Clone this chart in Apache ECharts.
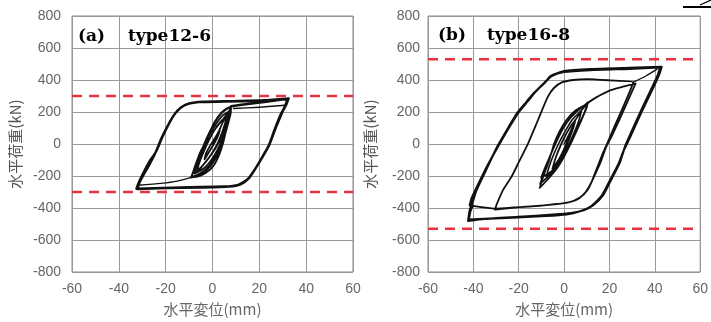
<!DOCTYPE html>
<html>
<head>
<meta charset="utf-8">
<script src="https://cdn.jsdelivr.net/npm/echarts@6/dist/echarts.min.js"></script>
<style>
html,body{margin:0;padding:0;background:#fff;}
#chart{width:711px;height:322px;}
</style>
</head>
<body>
<div id="chart"></div>
<script>
// ---------- Axis definitions ----------
const xRange = [-60, 60];
const xStep = 20;
const yRange = [-800, 800];
const yStep = 200;
const xAxisTitle = '水平変位(mm)';
const yAxisTitle = '水平荷重(kN)';
const panelTags = ['(a)', '(b)'];
const panelNames = ['type12-6', 'type16-8'];

// ---------- Panel (a) type12-6 : [displacement mm, load kN] ----------
const aInnerLoops = [[0,0],[1.5,45],[3.2,95],[2.6,60],[1,10],[-1.5,-50],[-3.4,-95],[-2.8,-60],[-1,-10],[1.4,45],[3.2,95],
  [4.5,140],[6,172],[5.5,130],[4,60],[1.5,-20],[-1.5,-85],[-4.5,-140],[-6.5,-170],[-6,-130],[-4.2,-60],[-2,10],[0.5,80],[3.5,140],[6,172],[5.2,120],[3.4,45],[1,-30],[-2,-95],[-5,-148],[-6.6,-168],[-5.7,-120],[-3.8,-50],[-1.5,25],[1.2,95],[4.5,155],
  [6.9,200],[6.6,160],[5.4,95],[4,30],[2,-40],[-0.5,-100],[-3.5,-150],[-7.7,-185],[-6.9,-140],[-5.3,-75],[-3.4,-10],[-1.2,60],[1.5,125],[4.5,180],[6.9,202],
  [7.9,234],[7.8,195],[6.8,135],[5.6,70],[4.4,0],[2.8,-70],[0.5,-135],[-2.8,-180],[-6,-202],[-9.1,-209],[-8.3,-175],[-6.9,-115],[-5.2,-50],[-3.4,0],[-1.5,65],[0.8,135],[3.5,192],[6,222],[7.9,234],[7.3,190],[6.2,130],[5,60],[3.5,-15],[1.5,-85],[-1,-140],[-4.5,-185],[-9,-206],[-8,-165],[-6.4,-100],[-4.4,-30],[-2.4,40],[0,110],[3,180],[6,220],[8,236],[6.8,185],[5.5,115],[4,40],[2.3,-40],[0,-110],[-3,-160],[-6.5,-192],[-9.2,-210],[-7.6,-150],[-5.6,-80],[-3.6,-10],[-1.6,60],[1,135],[4,195],[8,236]];
const aOuterLoops = [[8,236],[15,250],[22,262],[32,283],[31.3,250],[29.9,201],[27,100],[24.3,-4],[21,-90],[18.6,-148],[15.5,-215],[12,-252],[7,-266],[-5,-272],[-20,-276],[-32,-282],[-31.3,-245],[-29.7,-200],[-27,-130],[-24.7,-66],[-22,30],[-19.7,98],[-17,170],[-14,221],[-11,248],[-6,262],[5,265],[20,270],[32,280],[31,235],[29.3,190],[26.5,90],[24,-10],[20.5,-100],[18,-160],[15,-220],[11,-255],[5,-266],[-10,-270],[-25,-276],[-32.5,-280],[-31.5,-240],[-29.5,-180],[-27,-110],[-24.2,-50],[-21.5,40],[-19.2,110],[-16.5,180],[-13.5,228],[-10,253],[-4,264],[8,268],[22,273],[32.5,285],[31.5,245],[30,205]];
const aLinkLow = [[-9.1,-209],[-15,-232],[-22,-246],[-32,-258]];
const aLinkHigh = [[9,222],[20,230],[31,242]];
const aLimits = [300, -300];

// ---------- Panel (b) type16-8 ----------
const bInnerLoops = [[0,0],[2.5,70],[5,150],[4.3,110],[2.5,40],[0,-40],[-2.5,-100],[-5,-150],[-4.3,-110],[-2.5,-40],[0,40],[2.5,100],[5,150],[4,100],[1.5,20],[-1,-60],[-3.5,-125],[-5.2,-155],[-3.8,-90],[-1.8,-20],[0.5,50],[3,115],[5.2,155],
  [7.6,205],[6.8,160],[5,90],[2.5,10],[-0.5,-70],[-3.5,-140],[-7.8,-205],[-6.8,-150],[-5,-80],[-2.5,0],[0.5,80],[3.5,150],[7.6,210],
  [10.5,258],[9.8,220],[8,160],[5.5,80],[2.9,0],[0,-80],[-3,-150],[-6.5,-210],[-10.8,-275],[-9.8,-230],[-8.3,-170],[-6.5,-100],[-4.5,0],[-2,80],[1,150],[5,210],[10.3,252],[9.3,205],[7.2,140],[4.6,60],[2,-20],[-1.2,-100],[-4.5,-165],[-8,-215],[-10.6,-250],[-9.2,-190],[-7.5,-120],[-5.2,-40],[-2.8,40],[0.5,120],[4,185],[8,230],[10.6,262],[9,200],[6.5,120],[4,40],[1,-40],[-2,-110],[-5.5,-170],[-10.2,-212],[-8.5,-150],[-6,-70],[-3.5,10],[-0.5,95],[3,165],[7,220],[10,252]];
const bMidLoops = [[10,252],[14,290],[20,334],[26,358],[31.5,378],[30,330],[27.5,250],[24,140],[21,50],[18.5,-20],[16,-117],[13,-210],[10.5,-285],[7,-335],[2,-365],[-8,-382],[-20,-395],[-30.5,-410],[-29.8,-380],[-27,-290],[-23,-200],[-20.1,-117],[-15.8,6],[-11.5,150],[-7.2,294],[-4.5,350],[-1,385],[4,400],[10,406],[20,398],[30.5,386],[29,330],[26,230],[22.5,120],[19.5,20],[17,-60],[14.5,-150],[12,-240],[9.5,-300],[6,-345],[0,-370],[-10,-385],[-22,-397],[-30.1,-404],[-36,-395],[-41.6,-383]];
const bOuterLoops = [[-41.6,-383],[-40.8,-340],[-38.5,-270],[-34,-140],[-28.5,0],[-24,110],[-20,200],[-16,268],[-12.9,322],[-8.5,385],[-5.5,425],[0,450],[11.5,462],[28.7,470],[42.3,478],[41,420],[37,300],[33,180],[29.5,70],[27,-10],[24.5,-117],[21,-215],[17.2,-320],[13,-380],[8.6,-414],[3,-432],[-5,-442],[-20,-455],[-35,-468],[-42.3,-480],[-41.6,-414],[-40,-350],[-38.7,-291],[-34.5,-165],[-29.2,-10],[-24.5,105],[-20.5,198],[-16.5,265],[-13.2,320],[-8.2,388],[-5.9,425],[0,455],[11.5,468],[28.7,476],[43,482],[41.8,430],[40.2,380],[36.5,270],[32.5,150],[29,40],[26.3,-40],[23.8,-130],[20.3,-225],[16.5,-325],[12,-388],[7,-420],[1,-440],[-8,-450],[-25,-462],[-42,-472],[-41.3,-420],[-40.3,-385]];
const bLink = [[30.5,386],[36,425],[41,468]];
const bLimits = [530, -530];

// ---------- Build chart ----------
const grids = [
  {left: 72, top: 16, width: 281, height: 260, show: true, borderColor: '#888', borderWidth: 1, backgroundColor: '#fff'},
  {left: 428, top: 16, width: 279, height: 260, show: true, borderColor: '#888', borderWidth: 1, backgroundColor: '#fff'}
];
const labelMarginY = [11, 8];
const nameGapY = [49, 50];

function xAxisFor(i) {
  return {
    type: 'value', gridIndex: i, min: xRange[0], max: xRange[1], interval: xStep,
    axisLine: {show: false}, axisTick: {show: false},
    splitLine: {show: true, lineStyle: {color: '#999', width: 1}},
    axisLabel: {color: '#666', fontSize: 14, fontFamily: 'Liberation Sans, Arial, sans-serif', margin: 10, showMaxLabel: true, showMinLabel: true},
    name: xAxisTitle, nameLocation: 'middle', nameGap: 30,
    nameTextStyle: {color: '#666', fontSize: 15, fontFamily: 'Noto Sans CJK JP, sans-serif'}
  };
}
function yAxisFor(i) {
  return {
    type: 'value', gridIndex: i, min: yRange[0], max: yRange[1], interval: yStep,
    axisLine: {show: false}, axisTick: {show: false},
    splitLine: {show: true, lineStyle: {color: '#999', width: 1}},
    axisLabel: {color: '#666', fontSize: 14, fontFamily: 'Liberation Sans, Arial, sans-serif', margin: labelMarginY[i]},
    name: yAxisTitle, nameLocation: 'middle', nameGap: nameGapY[i], nameRotate: 90,
    nameTextStyle: {color: '#555', fontSize: 15, fontFamily: 'Noto Sans CJK JP, sans-serif'}
  };
}

function loopSeries(idx, data, width, smooth) {
  return {
    type: 'line', xAxisIndex: idx, yAxisIndex: idx, data: data,
    showSymbol: false, symbol: 'none', smooth: smooth || false,
    lineStyle: {color: '#111', width: width, join: 'round', cap: 'round'},
    silent: true, z: 3
  };
}
function limitSeries(idx, value) {
  return {
    type: 'line', xAxisIndex: idx, yAxisIndex: idx,
    data: [[xRange[0], value], [xRange[1], value]],
    showSymbol: false, symbol: 'none',
    lineStyle: {color: '#e8323f', width: 2.5, type: [10, 7]},
    silent: true, z: 4
  };
}

const series = [
  loopSeries(0, aInnerLoops, 1.8, 0.2),
  loopSeries(0, aOuterLoops, 2.4, 0.2),
  loopSeries(0, aLinkLow, 1.4, 0.2),
  loopSeries(0, aLinkHigh, 1.4, 0.2),
  loopSeries(1, bInnerLoops, 1.6, 0.2),
  loopSeries(1, bMidLoops, 1.8, 0.2),
  loopSeries(1, bOuterLoops, 2.2, 0.2),
  loopSeries(1, bLink, 1.4, 0.2)
];
aLimits.forEach(v => series.push(limitSeries(0, v)));
bLimits.forEach(v => series.push(limitSeries(1, v)));

const tagFont = 'bold 17px "DejaVu Serif", "Liberation Serif", serif';
const option = {
  animation: false,
  backgroundColor: '#fff',
  grid: grids,
  xAxis: [xAxisFor(0), xAxisFor(1)],
  yAxis: [yAxisFor(0), yAxisFor(1)],
  series: series,
  graphic: [
    {type: 'text', left: 78, top: 28, z: 10, style: {text: panelTags[0], font: tagFont, fill: '#000'}},
    {type: 'text', left: 128, top: 28, z: 10, style: {text: panelNames[0], font: tagFont, fill: '#000'}},
    {type: 'text', left: 438, top: 27, z: 10, style: {text: panelTags[1], font: tagFont, fill: '#000'}},
    {type: 'text', left: 487, top: 27, z: 10, style: {text: panelNames[1], font: tagFont, fill: '#000'}},
    {type: 'polyline', z: 10, shape: {points: [[683, 7], [711, 7]]}, style: {stroke: '#000', lineWidth: 2}},
    {type: 'polyline', z: 10, shape: {points: [[700, 5], [711, 0]]}, style: {stroke: '#000', lineWidth: 1.2}}
  ]
};
const chart = echarts.init(document.getElementById('chart'), null, {renderer: 'canvas'});
chart.setOption(option);
</script>
</body>
</html>
